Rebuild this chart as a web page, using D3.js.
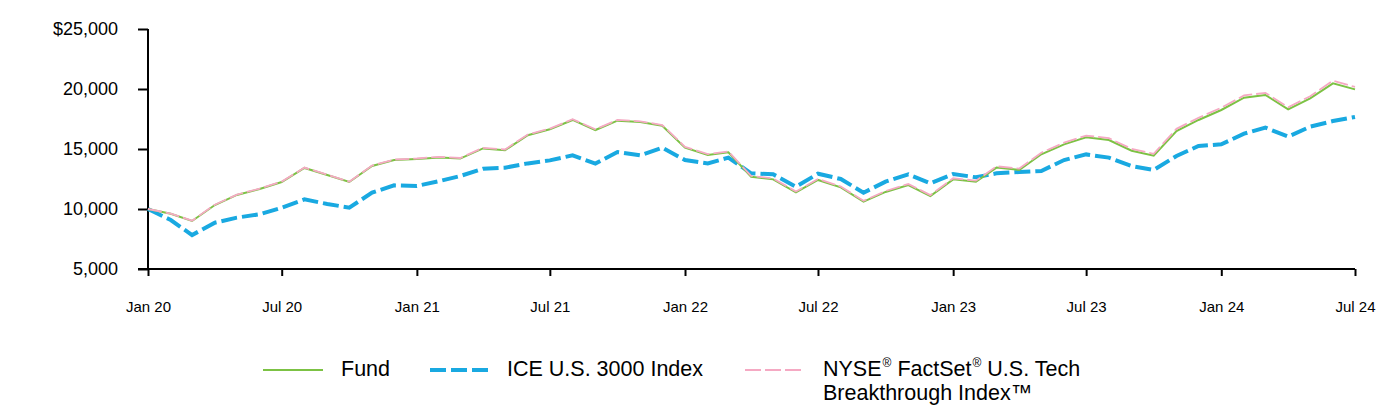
<!DOCTYPE html>
<html><head><meta charset="utf-8">
<script src="https://cdn.jsdelivr.net/npm/d3@7"></script>
<style>body{margin:0;background:#fff;} svg{display:block;font-family:"Liberation Sans",Arial,sans-serif;}</style>
</head><body><svg id="c" width="1396" height="412"></svg>
<script>
const months = ["2020-01","2020-02","2020-03","2020-04","2020-05","2020-06","2020-07","2020-08","2020-09","2020-10","2020-11","2020-12",
"2021-01","2021-02","2021-03","2021-04","2021-05","2021-06","2021-07","2021-08","2021-09","2021-10","2021-11","2021-12",
"2022-01","2022-02","2022-03","2022-04","2022-05","2022-06","2022-07","2022-08","2022-09","2022-10","2022-11","2022-12",
"2023-01","2023-02","2023-03","2023-04","2023-05","2023-06","2023-07","2023-08","2023-09","2023-10","2023-11","2023-12",
"2024-01","2024-02","2024-03","2024-04","2024-05","2024-06","2024-07"];
const fund = [10000,9600,9000,10330,11170,11670,12250,13420,12830,12250,13580,14080,
14170,14300,14200,15050,14900,16150,16640,17420,16580,17360,17250,16940,
15110,14500,14720,12690,12470,11390,12420,11800,10610,11420,12000,11080,
12470,12270,13450,13250,14560,15390,15970,15750,14860,14440,16500,17420,
18250,19280,19500,18310,19220,20470,19970];
const ice = [10000,9080,7830,8860,9280,9560,10110,10800,10420,10110,11360,11970,
11920,12330,12750,13360,13440,13800,14050,14470,13780,14750,14470,15110,
14080,13800,14280,12970,12890,11860,12940,12500,11360,12280,12890,12140,
12920,12640,12970,13080,13170,14080,14550,14280,13580,13250,14420,15250,
15390,16280,16780,16030,16860,17330,17670];
const nyse = [10000,9620,9030,10360,11200,11700,12280,13450,12860,12280,13620,14120,
14210,14350,14250,15100,14960,16210,16700,17480,16640,17420,17310,17000,
15180,14570,14790,12760,12540,11460,12500,11870,10680,11500,12080,11160,
12560,12360,13560,13370,14690,15530,16120,15900,15010,14600,16680,17600,
18440,19460,19680,18480,19400,20700,20170];
const yTicks = [5000,10000,15000,20000,25000];
const xTickLabels = ["Jan 20","Jul 20","Jan 21","Jul 21","Jan 22","Jul 22","Jan 23","Jul 23","Jan 24","Jul 24"];
const seriesNames = ["Fund","ICE U.S. 3000 Index","NYSE® FactSet® U.S. Tech|Breakthrough Index™"];

const parse = d3.timeParse("%Y-%m");
const dates = months.map(parse);
const svg = d3.select("#c");
const L = 148, R = 1355, T = 29, B = 269;
const x = d3.scaleTime().domain([dates[0], dates[dates.length-1]]).range([L, R]);
const y = d3.scaleLinear().domain([5000, 25000]).range([B, T]);
const FF = "'Liberation Sans',Arial,sans-serif";

// axes
const yAxis = d3.axisLeft(y).tickValues(yTicks).tickSize(10).tickPadding(20)
  .tickFormat((d,i) => i === yTicks.length-1 ? "$" + d3.format(",")(d) : d3.format(",")(d));
const gy = svg.append("g").attr("transform", `translate(${L},0)`).call(yAxis);
gy.select(".domain").attr("stroke","#000").attr("stroke-width",2).attr("d",`M0,${T}V${B}`);
gy.selectAll(".tick line").attr("stroke","#000").attr("stroke-width",2);
gy.selectAll(".tick text").attr("font-size",18).attr("fill","#000").attr("font-family",FF);

const xTickDates = xTickLabels.map(s => d3.timeParse("%b %y")(s));
const xAxis = d3.axisBottom(x).tickValues(xTickDates).tickSize(7).tickPadding(25)
  .tickFormat((d,i) => xTickLabels[i]);
const gx = svg.append("g").attr("transform", `translate(0,${B})`).call(xAxis);
gx.select(".domain").attr("stroke","#000").attr("stroke-width",2).attr("d",`M${L-10},0H${R}`);
gx.selectAll(".tick line").attr("stroke","#000").attr("stroke-width",2);
gx.selectAll(".tick text").attr("font-size",15).attr("fill","#000").attr("font-family",FF);

const line = d3.line().x((d,i) => x(dates[i])).y(d => y(d));
svg.append("path").datum(ice).attr("d", line).attr("fill","none")
  .attr("stroke","#19a9e1").attr("stroke-width",4).attr("stroke-dasharray","16,5");
svg.append("path").datum(fund).attr("d", line).attr("fill","none")
  .attr("stroke","#7cc244").attr("stroke-width",2);
svg.append("path").datum(nyse).attr("d", line).attr("fill","none")
  .attr("stroke","#f5a9c3").attr("stroke-width",1.8).attr("stroke-dasharray","14,4");

// legend
const lg = svg.append("g");
const items = [
  {x0:263, tx:341, color:"#7cc244", w:2, dash:null},
  {x0:430, tx:507, color:"#19a9e1", w:4, dash:"16,5"},
  {x0:745, tx:823, color:"#f5a9c3", w:2, dash:"16,4"}
];
const LFS = 21.5;
items.forEach((it,i) => {
  lg.append("line").attr("x1",it.x0).attr("x2",it.x0+60).attr("y1",370).attr("y2",370)
    .attr("stroke",it.color).attr("stroke-width",it.w).attr("stroke-dasharray",it.dash);
  const parts = seriesNames[i].split("|");
  parts.forEach((p,j) => {
    const by = 376 + j*23.5;
    let cx = it.tx;
    p.split(/(®)/).filter(s => s).forEach(s => {
      const sup = s === "®";
      let txt = s;
      if (!sup && txt.startsWith(" ")) { cx += LFS * 0.278; txt = txt.slice(1); }
      if (sup) cx += 1;
      const t = lg.append("text").attr("x",cx).attr("y", sup ? by - 9 : by)
        .attr("font-size", sup ? 12 : LFS).attr("fill","#000").attr("font-family",FF).text(txt);
      cx += t.node().getComputedTextLength();
    });
  });
});
</script></body></html>
